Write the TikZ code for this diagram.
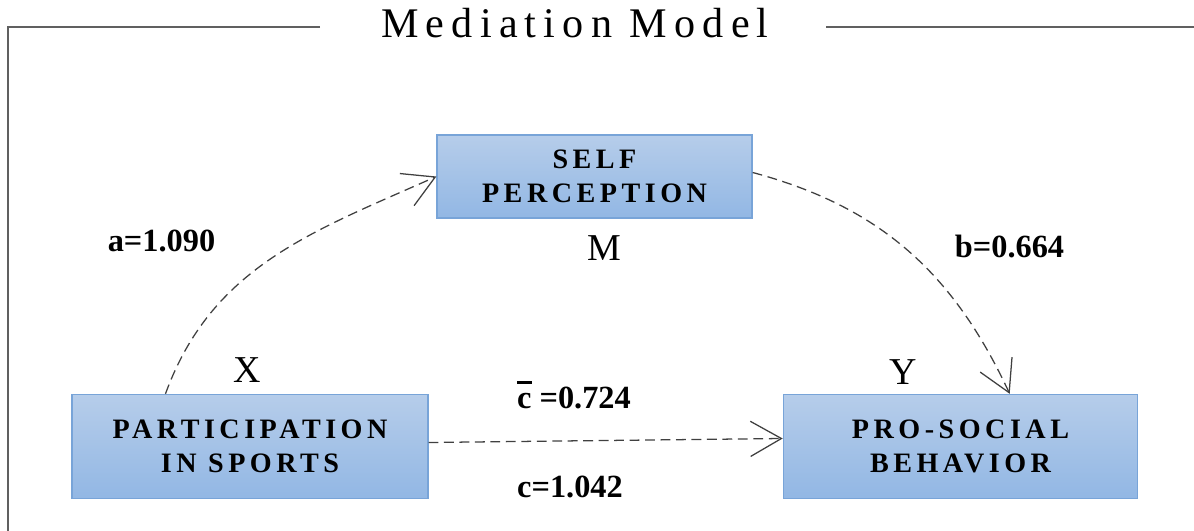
\documentclass[tikz,border=0pt]{standalone}
\usepackage{fontspec}
\setmainfont{Liberation Serif}
\newfontfamily\titlefont[LetterSpace=17]{Liberation Serif}
\newfontfamily\capsfont[LetterSpace=16]{Liberation Serif}
\usetikzlibrary{arrows.meta, calc}
\definecolor{boxtop}{RGB}{182,205,234}
\definecolor{boxbottom}{RGB}{146,183,228}
\definecolor{boxline}{RGB}{120,164,216}
\definecolor{pathgray}{RGB}{64,64,64}
\definecolor{framegray}{RGB}{96,96,96}
\newcommand\cdirect{\rlap{\rule[0.78em]{0.46em}{0.1em}}c}
\tikzstyle{construct} = [rectangle, draw=boxline, line width=0.9pt, top color=boxtop, bottom color=boxbottom, align=center, inner sep=0pt, font=\capsfont\bfseries\fontsize{20}{24}\selectfont]
\tikzstyle{coef} = [anchor=base, inner sep=0pt, font=\bfseries\fontsize{23}{26}\selectfont]
\tikzstyle{role} = [anchor=base, inner sep=0pt, font=\fontsize{27}{30}\selectfont]
\tikzstyle{effect} = [draw=pathgray, line width=0.9pt, dash pattern=on 7pt off 4pt, -{Straight Barb[length=22pt, width=25pt]}]

\begin{document}
\begin{tikzpicture}[x=0.025cm, y=0.025cm]
    \useasboundingbox (0,0) rectangle (1194,531);

    \node (title) [anchor=base, inner sep=0pt, font=\titlefont\fontsize{30}{33}\selectfont] at (575,493) {Mediation Model};
    \draw [framegray, line width=0.9pt] (320,504) -- (8,504) -- (8,0);
    \draw [framegray, line width=0.9pt] (826,504) -- (1194,504);

    \node (sp) [construct, minimum width=224pt, minimum height=59pt] at (594.5,354.5) {SELF\\PERCEPTION};
    \node (px) [construct, minimum width=253pt, minimum height=74pt] at (250,84.5) {PARTICIPATION\\IN SPORTS};
    \node (py) [construct, minimum width=252pt, minimum height=74pt] at (960.5,84.5) {PRO-SOCIAL\\BEHAVIOR};

    \node (M) [role] at (604.5,270) {M};
    \node (X) [role] at (247.5,148) {X};
    \node (Y) [role] at (903,146) {Y};

    \node (a) [coef] at (161.5,279) {a=1.090};
    \node (b) [coef] at (1009.5,273) {b=0.664};
    \node (cdir) [coef] at (574,122) {\cdirect\ =0.724};
    \node (ctot) [coef] at (570,33) {c=1.042};

    \draw [effect] ($(px.north west)+(94,0)$) to[out=70, in=204] (sp.west);
    \draw [effect] ($(sp.east)+(0,4)$) to[out=-15, in=115] ($(py.north west)+(227,0)$);
    \draw [effect] ($(px.east)+(0,4)$) -- ($(py.west)+(0,8)$);
\end{tikzpicture}
\end{document}
